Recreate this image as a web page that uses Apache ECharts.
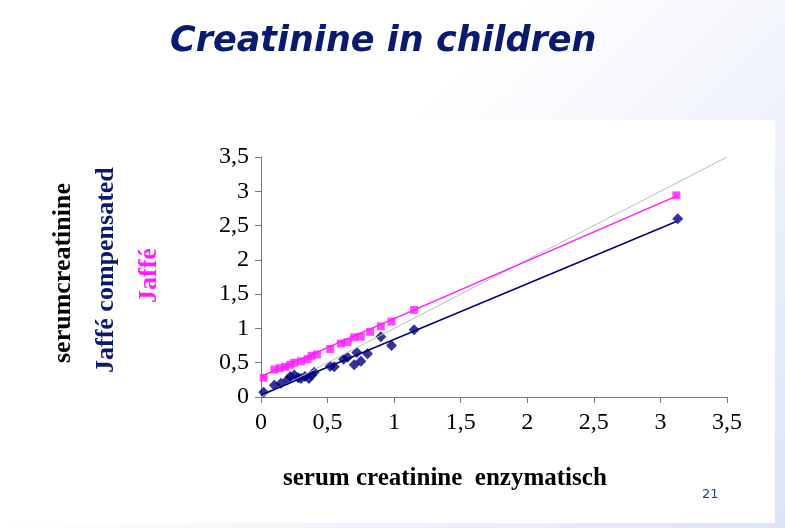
<!DOCTYPE html><html><head><meta charset="utf-8">
<script src="https://cdn.jsdelivr.net/npm/echarts@6/dist/echarts.min.js"></script>
<style>body{margin:0;background:linear-gradient(135deg,#ffffff 40%,#dde4f7);}#c{width:785px;height:528px;}</style></head><body><div id="c"></div><script>
const jaffe=[[0.02,0.28],[0.1,0.4],[0.14,0.42],[0.18,0.44],[0.22,0.47],[0.25,0.5],[0.3,0.52],[0.35,0.55],[0.38,0.6],[0.42,0.62],[0.52,0.7],[0.6,0.78],[0.65,0.8],[0.7,0.87],[0.75,0.88],[0.82,0.95],[0.9,1.03],[0.98,1.1],[1.15,1.27],[3.12,2.94]];
const comp=[[0.02,0.07],[0.1,0.17],[0.15,0.2],[0.2,0.25],[0.22,0.3],[0.25,0.32],[0.28,0.28],[0.3,0.27],[0.33,0.3],[0.36,0.27],[0.38,0.32],[0.4,0.36],[0.52,0.45],[0.55,0.44],[0.62,0.55],[0.65,0.58],[0.7,0.47],[0.72,0.65],[0.75,0.52],[0.8,0.63],[0.9,0.88],[0.98,0.75],[1.15,0.98],[3.13,2.6]];
const jaffeFit=[[0,0.3],[3.12,2.93]];
const compFit=[[0,0.03],[3.12,2.56]];
const identity=[[0,0],[3.5,3.5]];
const fmt=v=>String(v).replace('.',',');
const c=echarts.init(document.getElementById('c'));
const serif='Liberation Serif';
c.setOption({
graphic:[{type:'rect',shape:{x:10,y:120,width:765,height:403},style:{fill:'#fff'},z:-10},
{type:'text',left:170,top:24,style:{text:'Creatinine in children',font:'italic bold 35px Verdana, DejaVu Sans',fill:'#0a1a6e',shadowColor:'rgba(0,0,0,0.35)',shadowOffsetX:2,shadowOffsetY:2,shadowBlur:1}},
{type:'text',x:50,y:363,rotation:Math.PI/2,style:{text:'serumcreatinine',font:'bold 26px '+serif,fill:'#000'}},
{type:'text',x:93,y:373,rotation:Math.PI/2,style:{text:'Jaffé compensated',font:'bold 26px '+serif,fill:'#0a1a6e'}},
{type:'text',x:136,y:303,rotation:Math.PI/2,style:{text:'Jaffé',font:'bold 26px '+serif,fill:'#ff1aff'}},
{type:'text',left:283,top:466,style:{text:'serum creatinine  enzymatisch',font:'bold 25px '+serif,fill:'#000'}},
{type:'text',left:702,top:488,style:{text:'21',font:'13px DejaVu Sans',fill:'#2a3d8f'}}],
grid:{left:261,right:58,top:157,bottom:131},
xAxis:{type:'value',min:0,max:3.5,interval:0.5,splitLine:{show:false},axisLine:{lineStyle:{color:'#777'}},axisTick:{show:true,length:6,lineStyle:{color:'#777'}},axisLabel:{formatter:fmt,color:'#000',fontSize:24,fontFamily:serif,margin:14}},
yAxis:{type:'value',min:0,max:3.5,interval:0.5,splitLine:{show:false},axisLine:{show:true,lineStyle:{color:'#777'}},axisTick:{show:true,length:6,lineStyle:{color:'#777'}},axisLabel:{formatter:fmt,color:'#000',fontSize:24,fontFamily:serif,margin:12}},
series:[
{type:'line',data:identity,symbol:'none',lineStyle:{color:'#bbb',width:1},silent:true},
{type:'line',data:jaffeFit,symbol:'none',lineStyle:{color:'#ff1aff',width:1.5}},
{type:'line',data:compFit,symbol:'none',lineStyle:{color:'#000080',width:1.5}},
{type:'scatter',data:jaffe,symbol:'rect',symbolSize:8,itemStyle:{color:'#ff1aff'}},
{type:'scatter',data:comp,symbol:'diamond',symbolSize:11,itemStyle:{color:'#000080'}}
]});
</script></body></html>
